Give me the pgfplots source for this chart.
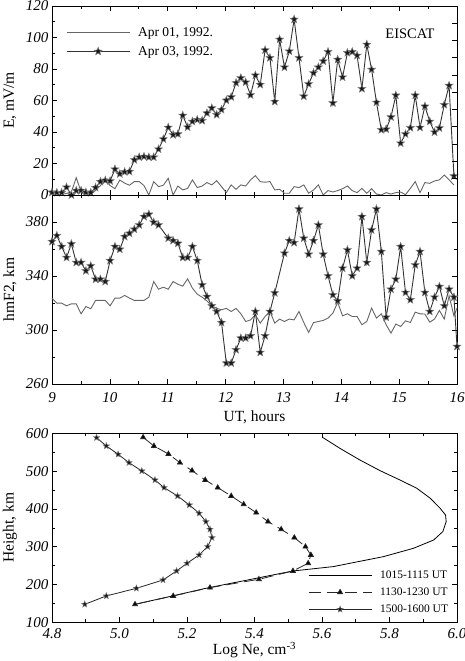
\documentclass[border=0pt]{standalone}
\usepackage{fontspec}
\setmainfont{Liberation Serif}
\usepackage{pgfplots}
\pgfplotsset{compat=1.18}
\usepackage{pgfplotstable}

\pgfdeclareplotmark{fstar}{%
  \pgfpathmoveto{\pgfpointpolar{90}{\pgfplotmarksize}}%
  \pgfpathlineto{\pgfpointpolar{126}{0.42*\pgfplotmarksize}}%
  \pgfpathlineto{\pgfpointpolar{162}{\pgfplotmarksize}}%
  \pgfpathlineto{\pgfpointpolar{198}{0.42*\pgfplotmarksize}}%
  \pgfpathlineto{\pgfpointpolar{234}{\pgfplotmarksize}}%
  \pgfpathlineto{\pgfpointpolar{270}{0.42*\pgfplotmarksize}}%
  \pgfpathlineto{\pgfpointpolar{306}{\pgfplotmarksize}}%
  \pgfpathlineto{\pgfpointpolar{342}{0.42*\pgfplotmarksize}}%
  \pgfpathlineto{\pgfpointpolar{18}{\pgfplotmarksize}}%
  \pgfpathlineto{\pgfpointpolar{54}{0.42*\pgfplotmarksize}}%
  \pgfpathclose
  \pgfusepathqfillstroke
}

% Top panel: Apr 03 electric field
\pgfplotstableread{
x y
9.000 1.7
9.084 1.5
9.167 1.5
9.251 4.9
9.335 0
9.419 2.8
9.502 2.8
9.586 1.7
9.670 1.5
9.753 4.7
9.837 8.5
9.921 9.3
10.004 8.9
10.088 16.4
10.172 13.4
10.256 14.7
10.339 14.9
10.423 22.3
10.507 24
10.590 24.4
10.674 24
10.758 24
10.841 29.1
10.925 35.5
11.009 42.9
11.093 38.2
11.176 38.7
11.260 50.5
11.344 43.1
11.427 46.7
11.511 47.8
11.595 47.2
11.678 52
11.762 55.2
11.846 51
11.930 54.2
12.013 60.1
12.097 62.2
12.181 71.2
12.264 74.3
12.348 71.6
12.432 63.5
12.515 76
12.599 70.1
12.683 92
12.767 87.1
12.850 59.3
12.934 98.8
13.018 81.1
13.101 91.3
13.185 111.5
13.269 87.1
13.352 62.7
13.436 70.5
13.520 77.5
13.604 81.1
13.687 85
13.771 90.9
13.855 58.4
13.938 86
14.022 74.8
14.106 90.3
14.189 90.9
14.273 88.6
14.357 67.5
14.441 95.6
14.524 79.7
14.608 58.8
14.692 41.4
14.775 41.8
14.859 49.5
14.943 63.3
15.026 32.9
15.110 38.7
15.194 42.7
15.278 63.3
15.361 42.9
15.445 56.3
15.529 46.7
15.612 39.9
15.696 42.5
15.780 57.3
15.863 69.5
15.947 12.1
}\EthreeTab

% Top panel: Apr 01 electric field
\pgfplotstableread{
x y
9.000 1
9.084 0.5
9.167 0.5
9.251 1
9.335 2
9.419 11
9.502 2
9.586 1
9.670 0.5
9.753 3
9.837 6
9.921 9.5
10.004 6
10.088 4
10.172 9.5
10.256 7.5
10.339 6.2
10.423 8.5
10.507 8.5
10.590 6
10.674 0
10.758 8.5
10.841 5.3
10.925 6.2
11.009 10.6
11.093 0
11.176 5.7
11.260 3.2
11.344 4.2
11.427 9.6
11.511 4.7
11.595 5.7
11.678 7.9
11.762 6.4
11.846 9.1
11.930 5.3
12.013 1.5
12.097 6.4
12.181 3.6
12.264 6.4
12.348 5.7
12.432 9.6
12.515 12.3
12.599 8.5
12.683 8.1
12.767 8.5
12.850 3.2
12.934 3.6
13.018 1.1
13.101 1.1
13.185 5.3
13.269 4.7
13.352 6.4
13.436 1.1
13.520 3.2
13.604 6.4
13.687 0
13.771 2.8
13.855 1.9
13.938 2.8
14.022 4
14.106 5.7
14.189 2.8
14.273 1.5
14.357 4.2
14.441 1.1
14.524 4
14.608 0.6
14.692 0
14.775 1.5
14.859 0.6
14.943 1.5
15.026 1.9
15.110 0.2
15.194 4.2
15.278 8.5
15.361 1.5
15.445 7.9
15.529 7.4
15.612 8.9
15.696 9.6
15.780 12.7
15.863 9.6
15.947 6.4
}\EoneTab

% Middle panel: Apr 03 hmF2
\pgfplotstableread{
x y
9.000 365.5
9.084 369.9
9.167 361.8
9.251 353.7
9.335 363.8
9.419 350
9.502 350
9.586 343.8
9.670 347.5
9.753 337.6
9.837 337.6
9.921 335.9
10.004 351.4
10.088 361.8
10.172 359.8
10.256 369.2
10.339 371.6
10.423 374.6
10.507 377.8
10.590 384
10.674 385.7
10.758 379.8
10.841 377.8
11.009 368
11.093 366.2
11.176 364.2
11.260 353.7
11.344 353.7
11.427 361.8
11.511 351.4
11.595 333.4
11.678 324.8
11.762 317.9
11.846 313.7
11.930 305.5
12.013 275.5
12.097 275.5
12.181 285.4
12.264 294
12.348 294
12.432 295.7
12.515 313.7
12.599 283.4
12.683 295.7
12.767 313.7
12.850 327.5
13.018 356.9
13.101 366.2
13.185 364.7
13.269 389.6
13.352 368
13.436 356.1
13.520 366.2
13.604 377.8
13.687 356.1
13.771 340.1
13.855 326
13.938 321.6
14.022 345.8
14.106 359.3
14.189 340.1
14.273 345.8
14.357 384
14.441 350
14.524 374.1
14.608 389.6
14.692 358.1
14.775 309.5
14.859 330.2
14.943 337.6
15.026 361.8
15.110 327.8
15.194 322.4
15.278 348.2
15.361 358.1
15.445 327.8
15.529 313.7
15.612 324.3
15.696 332.2
15.780 317.9
15.863 330.2
15.947 324.3
16.000 287.8
}\HthreeTab

% Middle panel: Apr 01 hmF2
\pgfplotstableread{
x y
9.000 323.6
9.084 319.9
9.167 319.9
9.251 317.9
9.335 319.4
9.419 319.4
9.502 312
9.586 317.4
9.670 315.7
9.753 321.9
9.837 321.9
9.921 321.9
10.004 317.9
10.088 323.6
10.172 323.6
10.256 325.6
10.339 323.6
10.423 321.9
10.507 321.9
10.590 321.9
10.674 324.3
10.758 335.9
10.841 330.2
10.925 331.7
11.009 330.2
11.093 335.9
11.176 333.9
11.260 332.5
11.344 337.9
11.427 331
11.511 326.5
11.595 324.3
11.678 321.5
11.762 318
11.846 316
11.930 315
12.013 316
12.097 313.7
12.181 316
12.264 312
12.348 306.3
12.432 307.5
12.515 311.2
12.599 305.1
12.683 310
12.767 313.7
12.850 305.1
12.934 308.1
13.018 306.3
13.101 308.1
13.185 307.5
13.269 313.7
13.352 305.5
13.436 298.2
13.520 305.5
13.604 306.3
13.687 307.1
13.771 308.8
13.855 312.5
13.938 320.5
14.022 310.5
14.106 312
14.189 310
14.273 310
14.357 303.9
14.441 306.3
14.524 316.2
14.608 308.8
14.692 312
14.775 303.9
14.859 297.7
14.943 304.4
15.026 302.6
15.110 306.8
15.194 305.6
15.278 313.2
15.361 312
15.445 311.8
15.529 305.8
15.612 308.1
15.696 314.5
15.780 308.1
15.863 325.3
15.947 310.5
16.000 316.2
}\HoneTab

% Bottom panel profiles
\pgfplotstableread{
x y
5.603 588.5
5.653 560.3
5.712 529.5
5.772 501.2
5.831 476.5
5.881 454.5
5.921 428
5.950 401.6
5.966 384
5.968 366.3
5.958 340
5.931 317.8
5.871 295.8
5.782 273.7
5.633 247.3
5.514 235.8
5.405 216.4
5.256 190
5.157 169.7
5.046 147.6
}\ProfA

\pgfplotstableread{
x y
5.070 589.4
5.102 566.5
5.145 545.3
5.179 522.4
5.215 501.2
5.254 476.5
5.291 456.3
5.331 434.2
5.368 412.2
5.405 390.1
5.440 366.3
5.479 346
5.518 324
5.551 300.2
5.567 278.1
5.559 256.1
5.514 235.8
5.413 213.8
5.268 191.7
5.159 169.7
5.046 147.6
}\ProfB

\pgfplotstableread{
x y
4.932 588.5
4.961 566.5
4.996 544.4
5.028 522.4
5.066 500.4
5.105 476.5
5.132 456.3
5.172 434.2
5.207 410.4
5.236 388.4
5.256 366.3
5.268 346
5.274 324
5.261 300.2
5.236 278.1
5.200 256.1
5.169 235.8
5.129 212
5.050 189.9
4.961 169.7
4.897 147.6
}\ProfC

\pgfplotsset{
  myaxis/.style={
    scale only axis, width=405bp, height=189bp,
    anchor=south west,
    clip=false,
    tick align=inside,
    major tick length=5bp, minor tick length=3bp,
    axis line style={line width=0.8bp},
    every tick/.style={black, line width=0.6bp},
    /pgf/number format/assume math mode=true,
    tick label style={font=\fontsize{15bp}{17bp}\selectfont},
    xticklabel={\textit{\pgfmathprintnumber{\tick}}},
    yticklabel={\textit{\pgfmathprintnumber{\tick}}},
    xticklabel style={yshift=-5bp},
    label style={font=\fontsize{15.5bp}{18bp}\selectfont},
    ylabel style={at={(axis description cs:0,0.5)}, anchor=center, rotate=0, yshift=42bp},
    xlabel style={at={(axis description cs:0.5,0)}, anchor=center, yshift=-33bp},
  },
  legimg/.style={legend image code/.code={%
      \draw[##1, mark repeat=2, mark phase=2] plot coordinates {(0bp,0bp) (31.5bp,0bp) (63bp,0bp)};}},
  starline/.style={black!80, line width=0.9bp, mark=fstar, mark size=4.2bp,
      mark options={solid, fill=black!90, draw=black!50, line width=0.5bp}},
}

\begin{document}
\begin{tikzpicture}
\useasboundingbox (0,0) rectangle (465bp,661bp);

% ---------- Top panel ----------
\begin{axis}[myaxis, at={(52bp,466bp)},
  xmin=9, xmax=16, ymin=0, ymax=120,
  xtick={9,...,16}, minor x tick num=1, xticklabels={},
  ytick={0,20,...,120}, minor y tick num=1, ytick pos=left,
  ylabel={E, mV/m},
  legimg,
  legend style={at={(axis description cs:0,1)}, anchor=north west,
    xshift=14bp, yshift=-21bp, draw=none, fill=none, inner sep=0pt,
    font=\fontsize{13.5bp}{16bp}\selectfont, row sep=8.5bp, column sep=8bp,
    nodes={inner sep=0pt}},
  legend cell align=left,
]
\addplot[black!60, line width=0.9bp] table[x=x, y=y] {\EoneTab};
\addlegendentry{Apr 01, 1992.}
\addplot[starline] table[x=x, y=y] {\EthreeTab};
\addlegendentry{Apr 03, 1992.}
\node[font=\fontsize{14.5bp}{16bp}\selectfont] at (axis description cs:0.884,0.852) {EISCAT};
\end{axis}
% right-hand ticks of the top panel
\begin{axis}[myaxis, at={(52bp,466bp)},
  xmin=9, xmax=16, ymin=0, ymax=120,
  hide x axis, axis y line*=right,
  ytick={10.6,21.6,32.4,43.4,54.4,65.2,76.2,87.4,98,109},
  yticklabels={}, minor y tick num=0,
]
\addplot[draw=none] coordinates {(9,0)};
\end{axis}

% ---------- Middle panel ----------
\begin{axis}[myaxis, at={(52bp,277bp)},
  xmin=9, xmax=16, ymin=260, ymax=400,
  xtick={9,...,16}, minor x tick num=1,
  ytick={260,300,340,380}, minor y tick num=1,
  ylabel={hmF2, km},
  xlabel={UT, hours},
]
\addplot[black!60, line width=0.9bp] table[x=x, y=y] {\HoneTab};
\addplot[starline] table[x=x, y=y] {\HthreeTab};
\end{axis}

% ---------- Bottom panel ----------
\begin{axis}[myaxis, at={(52bp,38.7bp)},
  xmin=4.8, xmax=6.0, ymin=100, ymax=600,
  xtick={4.8,5.0,...,6.0}, minor x tick num=1,
  ytick={100,200,...,600}, minor y tick num=1,
  xticklabel={\textit{\pgfmathprintnumber[fixed, fixed zerofill, precision=1]{\tick}}},
  xticklabel style={inner ysep=0pt, yshift=-1bp},
  ylabel={Height, km},
  xlabel={Log Ne, cm\textsuperscript{-3}},
  xlabel style={inner sep=0pt, yshift=5bp},
  legimg,
  legend style={at={(axis description cs:0,1)}, anchor=north west,
    xshift=256bp, yshift=-137bp, draw=none, fill=none, inner sep=0pt,
    font=\fontsize{11.5bp}{13bp}\selectfont, row sep=8bp, column sep=8bp,
    nodes={inner sep=0pt}},
  legend cell align=left,
]
\addplot[black, line width=0.8bp] table[x=x, y=y] {\ProfA};
\addlegendentry{1015-1115 UT}
\addplot[black!85, line width=0.8bp, dash pattern=on 12bp off 6bp, mark=triangle*, mark size=2.8bp,
  mark options={solid, fill=black}] table[x=x, y=y] {\ProfB};
\addlegendentry{1130-1230 UT}
\addplot[black!85, line width=0.8bp, mark=fstar, mark size=3.4bp,
  mark options={solid, fill=black!90, draw=black!50, line width=0.4bp}] table[x=x, y=y] {\ProfC};
\addlegendentry{1500-1600 UT}
\end{axis}
\end{tikzpicture}
\end{document}
